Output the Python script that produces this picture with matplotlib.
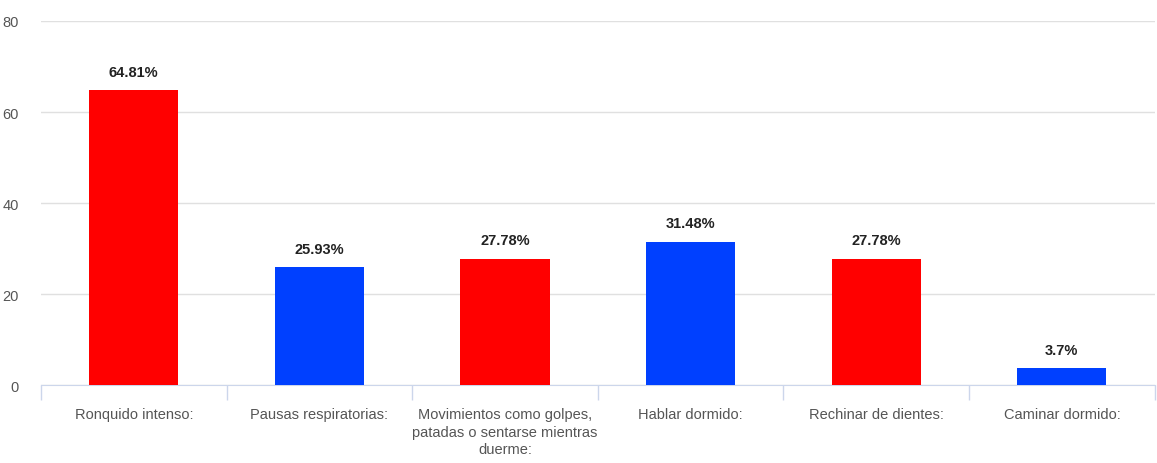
import matplotlib.pyplot as plt
import numpy as np

categories = ['Ronquido intenso:', 'Pausas respiratorias:',
              'Movimientos como golpes,\npatadas o sentarse mientras\nduerme:',
              'Hablar dormido:', 'Rechinar de dientes:', 'Caminar dormido:']
values = [64.81, 25.93, 27.78, 31.48, 27.78, 3.7]
labels = ['64.81%', '25.93%', '27.78%', '31.48%', '27.78%', '3.7%']
colors = ['#ff0000', '#0040ff', '#ff0000', '#0040ff', '#ff0000', '#0040ff']

plt.rcParams['font.family'] = ['Liberation Sans', 'DejaVu Sans']

fig = plt.figure(figsize=(11.57, 4.64), dpi=100)
ax = fig.add_axes([0.0354, 0.168, 0.9626, 0.7846])

x = np.arange(len(categories))
ax.bar(x, values, width=0.48, color=colors, zorder=3)
for xi, v, lab in zip(x, values, labels):
    ax.text(xi, v + 2.5, lab, ha='center', va='bottom', fontsize=10.5,
            fontweight='bold', color='#222222')

ax.set_xlim(-0.5, 5.5)
ax.set_ylim(0, 80)
ax.set_yticks([0, 20, 40, 60, 80])
ax.grid(axis='y', color='#e0e0e0', linewidth=1, zorder=0)
for s in ['top', 'right', 'left']:
    ax.spines[s].set_visible(False)
ax.spines['bottom'].set_color('#ccd6eb')
ax.tick_params(axis='y', length=0, labelsize=10.5, labelcolor='#555555', pad=16)

ax.set_xticks(x)
ax.set_xticklabels(categories, fontsize=10.5, color='#555555', linespacing=1.3)
ax.tick_params(axis='x', length=0, pad=16)
ax.set_xticks(np.arange(-0.5, 6, 1), minor=True)
ax.tick_params(axis='x', which='minor', length=11, color='#ccd6eb', width=1)

plt.savefig('out.png', dpi=100)
